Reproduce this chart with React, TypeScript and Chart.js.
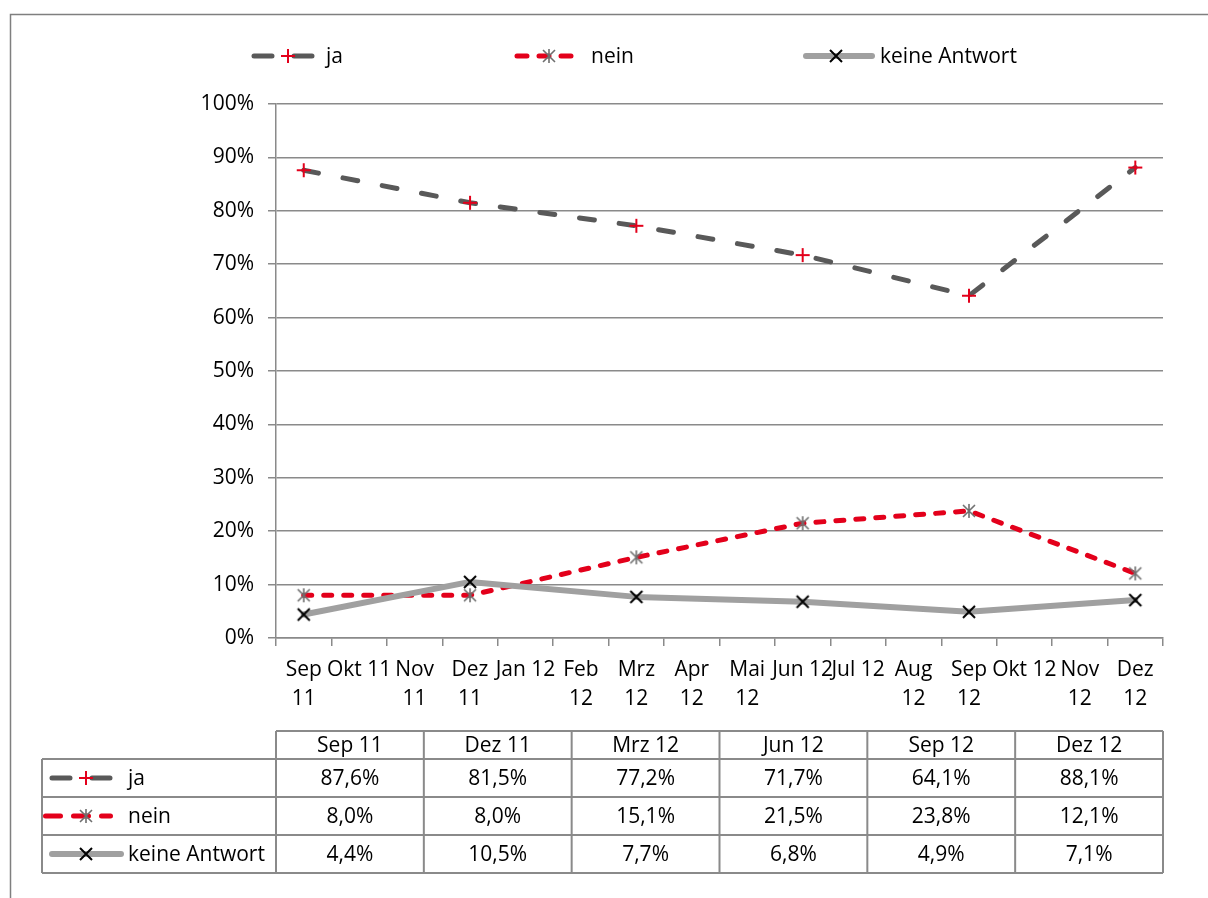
import React, { useEffect, useRef } from 'react';
import { Chart, registerables } from 'chart.js';
Chart.register(...registerables);

const FONT = '"Open Sans", sans-serif';
const FS = 21;

// ---- data ----
const months = [
  'Sep 11', 'Okt 11', 'Nov 11', 'Dez 11', 'Jan 12', 'Feb 12', 'Mrz 12', 'Apr 12',
  'Mai 12', 'Jun 12', 'Jul 12', 'Aug 12', 'Sep 12', 'Okt 12', 'Nov 12', 'Dez 12',
];
const tickLabels: string[][] = [
  ['Sep', '11'], ['Okt 11'], ['Nov', '11'], ['Dez', '11'], ['Jan 12'], ['Feb', '12'],
  ['Mrz', '12'], ['Apr', '12'], ['Mai', '12'], ['Jun 12'], ['Jul 12'], ['Aug', '12'],
  ['Sep', '12'], ['Okt 12'], ['Nov', '12'], ['Dez', '12'],
];
const quarters = ['Sep 11', 'Dez 11', 'Mrz 12', 'Jun 12', 'Sep 12', 'Dez 12'];
const jaValues = [87.6, 81.5, 77.2, 71.7, 64.1, 88.1];
const neinValues = [8.0, 8.0, 15.1, 21.5, 23.8, 12.1];
const keineValues = [4.4, 10.5, 7.7, 6.8, 4.9, 7.1];
const seriesNames = ['ja', 'nein', 'keine Antwort'];
const yTicks = [0, 10, 20, 30, 40, 50, 60, 70, 80, 90, 100];

// ---- styles ----
const RED = '#E3001B';
const DARK = '#595959';
const LIGHT = '#A0A0A0';
const GRID = '#8a8a8a';

type Style = { color: string; width: number; dash: number[]; keyDash: number[]; tableDash: number[]; marker: 'plus' | 'star' | 'x' };
const styles: Style[] = [
  { color: DARK, width: 5, dash: [15, 25], keyDash: [18, 22], tableDash: [18, 22], marker: 'plus' },
  { color: RED, width: 5, dash: [8, 12], keyDash: [10, 12], tableDash: [15, 13], marker: 'star' },
  { color: LIGHT, width: 6, dash: [], keyDash: [], tableDash: [], marker: 'x' },
];

function drawMarker(ctx: CanvasRenderingContext2D, type: string, x: number, y: number) {
  ctx.save();
  ctx.setLineDash([]);
  ctx.lineCap = 'butt';
  ctx.beginPath();
  if (type === 'plus') {
    ctx.strokeStyle = RED;
    ctx.lineWidth = 2;
    ctx.moveTo(x - 7, y); ctx.lineTo(x + 7, y);
    ctx.moveTo(x, y - 7); ctx.lineTo(x, y + 7);
  } else if (type === 'star') {
    ctx.strokeStyle = '#6e6e6e';
    ctx.lineWidth = 1.6;
    ctx.moveTo(x, y - 7); ctx.lineTo(x, y + 7);
    ctx.moveTo(x - 6, y - 6); ctx.lineTo(x + 6, y + 6);
    ctx.moveTo(x - 6, y + 6); ctx.lineTo(x + 6, y - 6);
  } else {
    ctx.strokeStyle = '#000';
    ctx.lineWidth = 2;
    ctx.moveTo(x - 6, y - 6); ctx.lineTo(x + 6, y + 6);
    ctx.moveTo(x - 6, y + 6); ctx.lineTo(x + 6, y - 6);
  }
  ctx.stroke();
  ctx.restore();
}

function markerCanvas(type: string) {
  const c = document.createElement('canvas');
  c.width = 18; c.height = 18;
  const ctx = c.getContext('2d')!;
  drawMarker(ctx, type, 9, 9);
  return c;
}

function drawKey(ctx: CanvasRenderingContext2D, st: Style, dash: number[], x1: number, x2: number, y: number, mx: number) {
  ctx.save();
  ctx.strokeStyle = st.color;
  ctx.lineWidth = st.width;
  ctx.lineCap = 'round';
  ctx.setLineDash(dash);
  ctx.beginPath();
  ctx.moveTo(x1, y);
  ctx.lineTo(x2, y);
  ctx.stroke();
  ctx.restore();
  drawMarker(ctx, st.marker, mx, y);
}

const fmt = (v: number) => v.toFixed(1).replace('.', ',') + '%';

function toMonthly(vals: number[]) {
  return months.map((m) => {
    const i = quarters.indexOf(m);
    return i >= 0 ? vals[i] : null;
  });
}

const extras = {
  id: 'extras',
  afterDraw(chart: any) {
    const ctx: CanvasRenderingContext2D = chart.ctx;
    const area = chart.chartArea;
    ctx.save();
    // outer frame
    ctx.strokeStyle = '#7f7f7f';
    ctx.lineWidth = 1.5;
    ctx.strokeRect(10.5, 14.5, 1400, 1000);

    // legend
    ctx.font = `${FS}px ${FONT}`;
    ctx.fillStyle = '#000';
    ctx.textBaseline = 'middle';
    ctx.textAlign = 'left';
    const legendY = 56;
    const legendItems = [
      { x1: 254, x2: 314, mx: 288, tx: 326 },
      { x1: 517, x2: 576, mx: 549, tx: 591 },
      { x1: 806, x2: 872, mx: 836, tx: 880 },
    ];
    legendItems.forEach((it, i) => {
      drawKey(ctx, styles[i], styles[i].keyDash, it.x1, it.x2, legendY, it.mx);
      ctx.fillStyle = '#000';
      ctx.fillText(seriesNames[i], it.tx, legendY + 1);
    });

    // data table
    const left = area.left;
    const right = area.right;
    const colW = (right - left) / quarters.length;
    const tableLeft = 42;
    const headTop = 731;
    const headBottom = 759;
    const rowH = 38;
    const rows = [jaValues, neinValues, keineValues];
    const bottom = headBottom + rowH * rows.length;
    ctx.strokeStyle = GRID;
    ctx.lineWidth = 2;
    ctx.beginPath();
    ctx.moveTo(left, headTop); ctx.lineTo(right, headTop);
    for (let r = 0; r <= rows.length; r++) {
      const yy = headBottom + r * rowH;
      ctx.moveTo(tableLeft, yy); ctx.lineTo(right, yy);
    }
    ctx.moveTo(tableLeft, headBottom); ctx.lineTo(tableLeft, bottom);
    for (let c = 0; c <= quarters.length; c++) {
      const xx = left + c * colW;
      ctx.moveTo(xx, headTop); ctx.lineTo(xx, bottom);
    }
    ctx.stroke();

    ctx.fillStyle = '#000';
    ctx.textAlign = 'center';
    quarters.forEach((q, c) => {
      ctx.fillText(q, left + (c + 0.5) * colW, (headTop + headBottom) / 2 + 1);
    });
    const keyX = [[52, 112], [45.5, 110.5], [52, 121]];
    rows.forEach((vals, r) => {
      const cy = headBottom + (r + 0.5) * rowH;
      vals.forEach((v, c) => {
        ctx.fillStyle = '#000';
        ctx.textAlign = 'center';
        ctx.fillText(fmt(v), left + (c + 0.5) * colW, cy + 1);
      });
      drawKey(ctx, styles[r], styles[r].tableDash, keyX[r][0], keyX[r][1], cy, 86);
      ctx.fillStyle = '#000';
      ctx.textAlign = 'left';
      ctx.fillText(seriesNames[r], 128, cy + 1);
    });
    ctx.restore();
  },
};

export default function App() {
  const ref = useRef<HTMLCanvasElement>(null);
  useEffect(() => {
    if (!ref.current) return;
    const allVals = [jaValues, neinValues, keineValues];
    const chart = new Chart(ref.current, {
      type: 'line',
      data: {
        labels: months,
        datasets: allVals.map((vals, i) => ({
          label: seriesNames[i],
          data: toMonthly(vals),
          spanGaps: true,
          borderColor: styles[i].color,
          borderWidth: styles[i].width,
          borderDash: styles[i].dash,
          borderCapStyle: 'round' as const,
          borderJoinStyle: 'round' as const,
          pointStyle: markerCanvas(styles[i].marker),
          pointRadius: 7,
          pointHoverRadius: 7,
          tension: 0,
          fill: false,
          order: 2 - i,
        })),
      },
      options: {
        responsive: false,
        animation: false,
        events: [],
        layout: { padding: { top: 104, right: 45, bottom: 180, left: 0 } },
        plugins: { legend: { display: false }, tooltip: { enabled: false }, title: { display: false } },
        scales: {
          x: {
            type: 'category',
            offset: true,
            afterFit: (s: any) => { s.height = 80; },
            grid: {
              display: true,
              offset: true,
              drawOnChartArea: false,
              drawTicks: true,
              tickLength: 8,
              color: GRID,
              lineWidth: 1.5,
            },
            border: { display: true, color: GRID, width: 1.5 },
            ticks: {
              autoSkip: false,
              maxRotation: 0,
              minRotation: 0,
              padding: 9,
              color: '#000',
              font: { family: FONT, size: FS, lineHeight: 1.4 },
              callback: (_v: any, i: number) => tickLabels[i],
            },
          },
          y: {
            min: 0,
            max: 100,
            afterFit: (s: any) => { s.width = 276; },
            afterBuildTicks: (s: any) => { s.ticks = yTicks.map((v) => ({ value: v })); },
            grid: { color: GRID, lineWidth: 1.5, drawTicks: true, tickLength: 8 },
            border: { display: true, color: GRID, width: 1.5 },
            ticks: {
              padding: 14,
              color: '#000',
              font: { family: FONT, size: FS },
              callback: (v: any) => v + '%',
            },
          },
        },
      },
      plugins: [extras],
    });
    return () => chart.destroy();
  }, []);
  return (
    <canvas
      ref={ref}
      width={1208}
      height={898}
      style={{ position: 'fixed', left: 0, top: 0, width: 1208, height: 898, background: '#fff' }}
    />
  );
}
